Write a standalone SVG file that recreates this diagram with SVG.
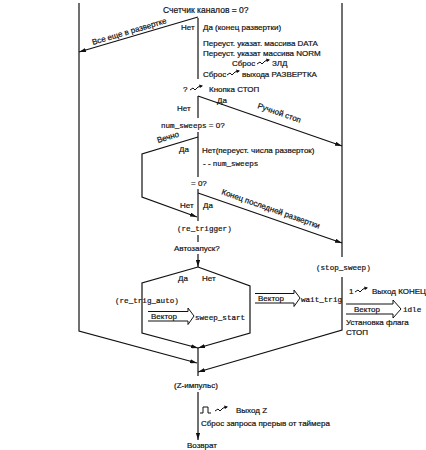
<svg xmlns="http://www.w3.org/2000/svg" width="426" height="450" viewBox="0 0 426 450">
<defs>
<marker id="ah" viewBox="0 0 10 6" refX="10" refY="3" markerWidth="7" markerHeight="4.2" orient="auto" markerUnits="userSpaceOnUse">
<path d="M0,0 L10,3 L0,6 z" fill="#111"/>
</marker>
<path id="sq" d="M0,3 L3,1 L5,3 L8,0 L12,-1" fill="none" stroke="#111" stroke-width="1"/>
<path id="sqh" d="M9,-2.5 L13,-1.2 L10,1 z" fill="#111"/>
</defs>
<style>
text{font-family:"Liberation Sans",Arial,sans-serif;font-size:8px;fill:#111;stroke:#111;stroke-width:0.2}
.c{font-family:"Liberation Mono","Courier New",monospace;font-size:7.6px}
.b{font-size:8.5px}
.ln{fill:none;stroke:#111;stroke-width:1.2}
.v{fill:none;stroke:#111;stroke-width:1}
</style>
<rect width="426" height="450" fill="#fff"/>

<g id="connectors">
<line class="ln" x1="198" y1="18" x2="198" y2="79"/>
<line class="ln" x1="198" y1="17" x2="79" y2="52" marker-end="url(#ah)"/>
<polyline class="ln" points="79,3 79,331 197,363" marker-end="url(#ah)"/>
<line class="ln" x1="342" y1="3" x2="342" y2="257"/>
<polyline class="ln" points="342,277 342,330 198,372" marker-end="url(#ah)"/>
<line class="ln" x1="198" y1="96" x2="198" y2="118"/>
<line class="ln" x1="198" y1="96" x2="342" y2="146" marker-end="url(#ah)"/>
<line class="ln" x1="198" y1="132" x2="198" y2="177"/>
<polyline class="ln" points="198,137 142,154 142,197 197,217" marker-end="url(#ah)"/>
<line class="ln" x1="198" y1="189" x2="198" y2="221"/>
<line class="ln" x1="198" y1="193" x2="342" y2="243" marker-end="url(#ah)"/>
<line class="ln" x1="198" y1="235" x2="198" y2="242"/>
<line class="ln" x1="198" y1="254" x2="198" y2="267" marker-end="url(#ah)"/>
<polyline class="ln" points="198,267 142,283 142,333 198,348" marker-end="url(#ah)"/>
<polyline class="ln" points="198,267 250,286 250,333 198,348" marker-end="url(#ah)"/>
<line class="ln" x1="198" y1="348" x2="198" y2="376"/>
<line class="ln" x1="198" y1="392" x2="198" y2="440" marker-end="url(#ah)"/>
</g>

<g id="n-counter"><text class="b" x="163" y="13">Счетчик каналов = 0?</text></g>
<g id="n-still"><text transform="translate(93,45) rotate(-16.5)">Все еще в развертке</text></g>
<g id="n-end-sweep">
<text x="181" y="30">Нет</text>
<text x="203" y="30">Да (конец развертки)</text>
<text x="203" y="46">Переуст. указат. массива DATA</text>
<text x="203" y="56">Переуст. указат массива NORM</text>
<text x="232" y="66">Сброс</text>
<use href="#sq" x="257" y="61"/><use href="#sqh" x="257" y="61"/>
<text x="272" y="66">ЗЛД</text>
<text x="203" y="77">Сброс</text>
<use href="#sq" x="227" y="72"/><use href="#sqh" x="227" y="72"/>
<text x="242" y="77">выхода РАЗВЕРТКА</text>
</g>
<g id="n-stop-btn">
<text x="183" y="92">?</text>
<use href="#sq" x="190" y="87"/><use href="#sqh" x="190" y="87"/>
<text x="209" y="92">Кнопка СТОП</text>
<text x="217" y="103">Да</text>
<text x="177" y="111">Нет</text>
<text transform="translate(257,108) rotate(19)">Ручной стоп</text>
</g>
<g id="n-numsweeps">
<text x="161" y="128"><tspan class="c">num_sweeps</tspan> = 0?</text>
<text transform="translate(158,143) rotate(-17)">Вечно</text>
<text x="179" y="152">Да</text>
<text x="202" y="153">Нет(переуст. числа разверток)</text>
<text x="203" y="166">- -  <tspan class="c">num_sweeps</tspan></text>
<text x="191" y="186">= 0?</text>
<text x="180" y="208">Нет</text>
<text x="203" y="208">Да</text>
<text transform="translate(221,194) rotate(19.5)">Конец последней развертки</text>
</g>
<g id="n-retrigger"><text class="c" x="177" y="231">(re_trigger)</text></g>
<g id="n-auto">
<text x="174" y="251">Автозапуск?</text>
<text x="178" y="281">Да</text>
<text x="202" y="281">Нет</text>
</g>
<g id="n-retrigauto">
<text class="c" x="115" y="303">(re_trig_auto)</text>
<path class="v" d="M148,311.5 H188 V308 L194,316 L188,324.5 V321 H148"/>
<text x="151" y="319">Вектор</text>
<text class="c" x="195" y="320">sweep_start</text>
</g>
<g id="n-waittrig">
<path class="v" d="M255,293.5 H294 V290 L300,298 L294,306.5 V303 H255"/>
<text x="258" y="301">Вектор</text>
<text class="c" x="301" y="302">wait_trig</text>
</g>
<g id="n-stopsweep">
<text class="c" x="316" y="270">(stop_sweep)</text>
<text x="349" y="294">1</text>
<use href="#sq" x="355" y="289"/><use href="#sqh" x="355" y="289"/>
<text x="372" y="294">Выход КОНЕЦ</text>
<path class="v" d="M346,304 H393 V300 L401,309 L393,318 V314 H346"/>
<text x="354" y="312">Вектор</text>
<text class="c" x="403" y="312">idle</text>
<text x="346" y="325">Установка флага</text>
<text x="346" y="335">СТОП</text>
</g>
<g id="n-zpulse">
<text x="174" y="388">(Z-импульс)</text>
<path class="v" d="M200,413 H203 V407 H208 V413 H211"/>
<use href="#sq" x="215" y="408"/><use href="#sqh" x="215" y="408"/>
<text x="236" y="413">Выход Z</text>
<text x="201" y="426">Сброс запроса прерыв от таймера</text>
</g>
<g id="n-return"><text x="187" y="448">Возврат</text></g>
</svg>
